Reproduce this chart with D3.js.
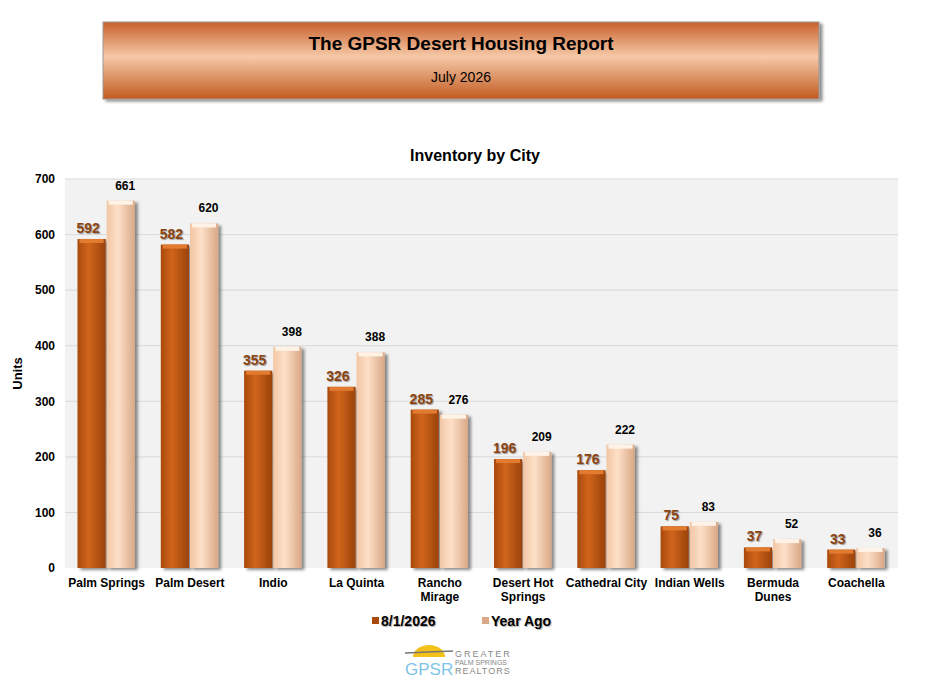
<!DOCTYPE html>
<html><head><meta charset="utf-8">
<script src="https://cdn.jsdelivr.net/npm/d3@7"></script>
<style>body{margin:0;background:#fff;font-family:Arial,"Liberation Sans",sans-serif}</style>
</head><body>
<script>
// Chart values
var cities = ["Palm Springs", "Palm Desert", "Indio", "La Quinta", "Rancho Mirage", "Desert Hot Springs", "Cathedral City", "Indian Wells", "Bermuda Dunes", "Coachella"];
var cityLines = [["Palm Springs"], ["Palm Desert"], ["Indio"], ["La Quinta"], ["Rancho", "Mirage"], ["Desert Hot", "Springs"], ["Cathedral City"], ["Indian Wells"], ["Bermuda", "Dunes"], ["Coachella"]];
var current = [592, 582, 355, 326, 285, 196, 176, 75, 37, 33];
var yearAgo = [661, 620, 398, 388, 276, 209, 222, 83, 52, 36];
var seriesNames = ["8/1/2026", "Year Ago"];
var yTicks = [0, 100, 200, 300, 400, 500, 600, 700];

var svg = d3.select("body").append("svg").attr("width", 934).attr("height", 694);
var defs = svg.append("defs");

// Header gradient
var hg = defs.append("linearGradient").attr("id", "hg").attr("x1", 0).attr("y1", 0).attr("x2", 0).attr("y2", 1);
hg.append("stop").attr("offset", "0%").attr("stop-color", "#c8602a");
hg.append("stop").attr("offset", "45%").attr("stop-color", "#f6c9a8");
hg.append("stop").attr("offset", "100%").attr("stop-color", "#c25a20");
var dg = defs.append("linearGradient").attr("id", "dg");
dg.append("stop").attr("offset", "0%").attr("stop-color", "#a94a0c");
dg.append("stop").attr("offset", "40%").attr("stop-color", "#d0651c");
dg.append("stop").attr("offset", "100%").attr("stop-color", "#9a420a");
var lg = defs.append("linearGradient").attr("id", "lg");
lg.append("stop").attr("offset", "0%").attr("stop-color", "#f2c6a4");
lg.append("stop").attr("offset", "40%").attr("stop-color", "#fde0c8");
lg.append("stop").attr("offset", "100%").attr("stop-color", "#d9a886");
var f = defs.append("filter").attr("id", "sh").attr("x", "-20%").attr("y", "-20%").attr("width", "150%").attr("height", "150%");
f.append("feDropShadow").attr("dx", 3).attr("dy", 2).attr("stdDeviation", 1.5).attr("flood-color", "#000").attr("flood-opacity", 0.45);

svg.append("rect").attr("x", 103).attr("y", 22).attr("width", 716).attr("height", 77)
   .attr("fill", "url(#hg)").attr("stroke", "#999").attr("filter", "url(#sh)");
svg.append("text").attr("x", 461).attr("y", 50).attr("text-anchor", "middle")
   .attr("font-size", "19px").attr("font-weight", "bold").text("The GPSR Desert Housing Report");
svg.append("text").attr("x", 461).attr("y", 82).attr("text-anchor", "middle")
   .attr("font-size", "14px").text("July 2026");

svg.append("text").attr("x", 475).attr("y", 161).attr("text-anchor", "middle")
   .attr("font-size", "16px").attr("font-weight", "bold").text("Inventory by City");

var pLeft = 65, pRight = 898, pTop = 179, pBottom = 568;
var x = d3.scaleBand().domain(cities).range([pLeft, pRight]).paddingInner(0.3).paddingOuter(0.15);
var x1 = d3.scaleBand().domain([0, 1]).range([0, x.bandwidth()]);
var y = d3.scaleLinear().domain([0, 700]).range([pBottom, pTop]);

svg.append("rect").attr("x", pLeft).attr("y", pTop).attr("width", pRight - pLeft).attr("height", pBottom - pTop).attr("fill", "#f2f2f2");
svg.append("g").selectAll("line").data(yTicks.slice(1)).enter().append("line")
   .attr("x1", pLeft).attr("x2", pRight).attr("y1", d => y(d)).attr("y2", d => y(d))
   .attr("stroke", "#d9d9d9");

var ya = svg.append("g").attr("transform", "translate(" + pLeft + ",0)")
   .call(d3.axisLeft(y).tickValues(yTicks).tickSize(0).tickPadding(10));
ya.select(".domain").remove();
ya.selectAll("text").attr("font-size", "12px").attr("font-weight", "bold").attr("fill", "#000").attr("font-family", "Arial");
svg.append("text").attr("transform", "translate(22," + ((pTop + pBottom) / 2) + ") rotate(-90)")
   .attr("text-anchor", "middle").attr("font-size", "13px").attr("font-weight", "bold").text("Units");

var groups = svg.append("g").selectAll("g").data(cities).enter().append("g")
   .attr("transform", d => "translate(" + x(d) + ",0)");
[current, yearAgo].forEach(function(vals, s) {
  groups.append("rect")
    .attr("x", x1(s)).attr("width", x1.bandwidth() - 1)
    .attr("y", (d, i) => y(vals[i])).attr("height", (d, i) => pBottom - y(vals[i]))
    .attr("fill", s ? "url(#lg)" : "url(#dg)").attr("filter", "url(#sh)");
  groups.append("rect")
    .attr("x", x1(s) + 2).attr("width", x1.bandwidth() - 5)
    .attr("y", (d, i) => y(vals[i])).attr("height", 4)
    .attr("fill", s ? "#fff2e6" : "#e27a30");
  groups.append("text")
    .attr("x", x1(s) + x1.bandwidth() / 2 + (s ? 4 : -4))
    .attr("y", (d, i) => y(vals[i]) - (s ? 11 : 6))
    .attr("text-anchor", "middle").attr("font-weight", "bold")
    .attr("font-size", s ? "12px" : "14px")
    .attr("fill", s ? "#000" : "#8b4513")
    .attr("style", s ? null : "text-shadow:1px 1px 1px #999")
    .text((d, i) => vals[i]);
});

svg.append("g").selectAll("text").data(cities).enter().append("text")
   .attr("x", d => x(d) + x.bandwidth() / 2).attr("y", 587)
   .attr("text-anchor", "middle").attr("font-size", "12px").attr("font-weight", "bold")
   .each(function(d, i) {
     d3.select(this).selectAll("tspan").data(cityLines[i]).enter().append("tspan")
       .attr("x", x(d) + x.bandwidth() / 2).attr("dy", (t, j) => j ? 14 : 0).text(t => t);
   });

// Legend
var leg = svg.append("g").attr("transform", "translate(372,626)");
seriesNames.forEach(function(n, i) {
  var g = leg.append("g").attr("transform", "translate(" + (i * 110) + ",0)");
  g.append("rect").attr("x", 0).attr("y", -9).attr("width", 7).attr("height", 7).attr("fill", i ? "#d9a886" : "#a94a0c");
  g.append("text").attr("x", 9).attr("y", 0).attr("font-size", "14px").attr("font-weight", "bold")
   .attr("style", "text-shadow:1px 1px 1px #aaa").text(n);
});

// Logo
var lgG = svg.append("g").attr("transform", "translate(405,645)");
lgG.append("path").attr("d", "M8,12 A16,12 0 0 1 40,12 Z").attr("fill", "#f2c21a");
lgG.append("line").attr("x1", 0).attr("y1", 8).attr("x2", 48).attr("y2", 6).attr("stroke", "#777").attr("stroke-width", 1.5);
lgG.append("text").attr("x", 0).attr("y", 30).attr("font-size", "17px").attr("fill", "#7ec4e6").text("GPSR");
lgG.append("text").attr("x", 50).attr("y", 12).attr("font-size", "9px").attr("fill", "#888").attr("letter-spacing", "2").text("GREATER");
lgG.append("text").attr("x", 50).attr("y", 20).attr("font-size", "7px").attr("fill", "#888").text("PALM SPRINGS");
lgG.append("text").attr("x", 50).attr("y", 29).attr("font-size", "9px").attr("fill", "#888").attr("letter-spacing", "1").text("REALTORS");
</script>
</body></html>
